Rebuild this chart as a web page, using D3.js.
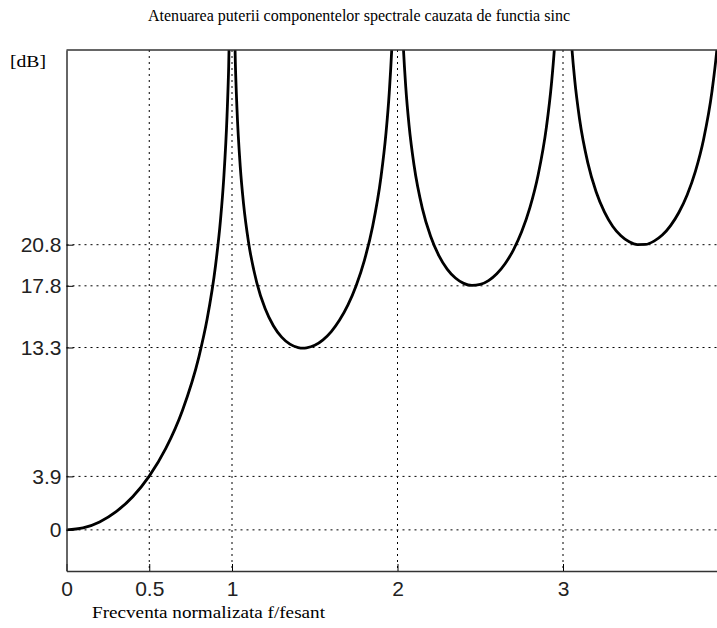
<!DOCTYPE html>
<html>
<head>
<meta charset="utf-8">
<script src="https://cdn.jsdelivr.net/npm/d3@7"></script>
<style>
  body { margin: 0; background: #fff; }
  svg { display: block; }
  .grid line { stroke: #000; stroke-dasharray: 2,4; stroke-width: 1; }
</style>
</head>
<body>
<div id="chart"></div>
<script>
// frequency (f / fesant) and attenuation in dB
// null marks the poles at the integer frequencies
const freq = [
  0, 0.1, 0.2, 0.3, 0.4, 0.5, 0.6, 0.7, 0.8, 0.85, 0.9, 0.93, 0.95, 0.97, 0.98, 0.99, 1,
  1.01, 1.02, 1.03, 1.05, 1.07, 1.1, 1.15, 1.2, 1.25, 1.3, 1.35, 1.4, 1.43, 1.45, 1.5, 1.55,
  1.6, 1.65, 1.7, 1.75, 1.8, 1.85, 1.9, 1.93, 1.95, 1.97, 1.98, 2,
  2.02, 2.03, 2.05, 2.07, 2.1, 2.15, 2.2, 2.25, 2.3, 2.35, 2.4, 2.45, 2.5, 2.55, 2.6, 2.65,
  2.7, 2.75, 2.8, 2.85, 2.9, 2.93, 2.95, 2.97, 3,
  3.03, 3.05, 3.07, 3.1, 3.15, 3.2, 3.25, 3.3, 3.35, 3.4, 3.45, 3.5, 3.55, 3.6, 3.65, 3.7,
  3.75, 3.8, 3.85, 3.9, 3.93, 3.95
]
const attenDb = [
  0, 0.14, 0.58, 1.33, 2.42, 3.92, 5.94, 8.69, 12.62, 15.39, 19.23, 22.54, 25.61, 30.21, 33.81, 39.91, null,
  40.09, 34.16, 30.73, 26.48, 23.76, 20.97, 18.02, 16.14, 14.89, 14.06, 13.55, 13.30, 13.26, 13.28, 13.46, 13.86,
  14.46, 15.30, 16.39, 17.81, 19.66, 22.15, 25.72, 28.88, 31.86, 36.36, 39.92, null,
  40.09, 36.62, 32.29, 29.49, 26.59, 23.45, 21.41, 20.00, 19.02, 18.37, 17.98, 17.83, 17.90, 18.18, 18.68, 19.41,
  20.41, 21.74, 23.50, 25.90, 29.39, 32.51, 35.45, 39.93, null,
  40.10, 35.74, 32.91, 29.97, 26.77, 24.66, 23.19, 22.15, 21.45, 21.01, 20.81, 20.82, 21.06, 21.50, 22.19, 23.15,
  24.43, 26.15, 28.51, 31.96, 35.06, 37.99
]
const xTicks = [0, 0.5, 1, 2, 3]
const xTickLabels = ["0", "0.5", "1", "2", "3"]
const yTicks = [0, 3.9, 13.3, 17.8, 20.8]

const width = 717
const height = 628
const plot = { left: 66.5, top: 50, right: 728.5, bottom: 571 }

const sans = "Arial, 'Liberation Sans', Helvetica, sans-serif"
const serif = "'Times New Roman', 'Liberation Serif', Times, serif"

const svg = d3.select("#chart")
  .append("svg")
    .attr("width", width)
    .attr("height", height)

const xScale = d3.scaleLinear().domain([0, 4]).range([plot.left, plot.right])
const yScale = d3.scaleLinear().domain([-3, 35]).range([plot.bottom, plot.top])

// grid
const grid = svg.append("g").attr("class", "grid")
grid.selectAll(".gx")
  .data(xTicks.filter(d => d > 0))
  .join("line")
    .attr("class", "gx")
    .attr("x1", d => xScale(d)).attr("x2", d => xScale(d))
    .attr("y1", plot.top).attr("y2", plot.bottom)
grid.selectAll(".gy")
  .data(yTicks)
  .join("line")
    .attr("class", "gy")
    .attr("x1", plot.left).attr("x2", plot.right)
    .attr("y1", d => yScale(d)).attr("y2", d => yScale(d))

// curve
const data = freq.map((f, i) => ({ f: f, db: attenDb[i] }))

svg.append("clipPath").attr("id", "plot-clip")
  .append("rect")
    .attr("x", plot.left).attr("y", plot.top)
    .attr("width", plot.right - plot.left).attr("height", plot.bottom - plot.top)

const lineGenerator = d3.line()
  .defined(d => d.db !== null)
  .x(d => xScale(d.f))
  .y(d => yScale(d.db))
  .curve(d3.curveMonotoneX)

svg.append("path")
  .attr("clip-path", "url(#plot-clip)")
  .attr("d", lineGenerator(data))
  .attr("fill", "none")
  .attr("stroke", "#000")
  .attr("stroke-width", 2.8)

// axes
const xAxis = d3.axisBottom(xScale)
  .tickValues(xTicks)
  .tickFormat((d, i) => xTickLabels[i])
  .tickSizeInner(-7)
  .tickSizeOuter(0)
  .tickPadding(10)
svg.append("g")
    .attr("transform", `translate(0, ${plot.bottom})`)
    .call(xAxis)
    .attr("font-family", sans)
    .attr("font-size", 21)
    .call(g => g.select(".domain").attr("stroke", "#333").attr("stroke-width", 1.5))
    .call(g => g.selectAll(".tick text").attr("fill", "#222"))

const yAxis = d3.axisLeft(yScale)
  .tickValues(yTicks)
  .tickFormat(d => d)
  .tickSizeInner(-7)
  .tickSizeOuter(0)
  .tickPadding(5)
svg.append("g")
    .attr("transform", `translate(${plot.left}, 0)`)
    .call(yAxis)
    .attr("font-family", sans)
    .attr("font-size", 21)
    .call(g => g.select(".domain").attr("stroke", "#333").attr("stroke-width", 1.5))
    .call(g => g.selectAll(".tick text").attr("fill", "#222"))

// top border
svg.append("line")
  .attr("x1", plot.left).attr("x2", plot.right)
  .attr("y1", plot.top).attr("y2", plot.top)
  .attr("stroke", "#333").attr("stroke-width", 1.5)

// texts
svg.append("text")
  .text("Atenuarea puterii componentelor spectrale cauzata de functia sinc")
  .attr("x", 148).attr("y", 21)
  .attr("textLength", 422).attr("lengthAdjust", "spacingAndGlyphs")
  .attr("font-family", serif).attr("font-size", 16)

svg.append("text")
  .text("[dB]")
  .attr("x", 10).attr("y", 67)
  .attr("textLength", 36).attr("lengthAdjust", "spacingAndGlyphs")
  .attr("font-family", serif).attr("font-size", 17)

svg.append("text")
  .text("Frecventa normalizata f/fesant")
  .attr("x", 92).attr("y", 618)
  .attr("textLength", 233).attr("lengthAdjust", "spacingAndGlyphs")
  .attr("font-family", serif).attr("font-size", 16)
</script>
</body>
</html>
